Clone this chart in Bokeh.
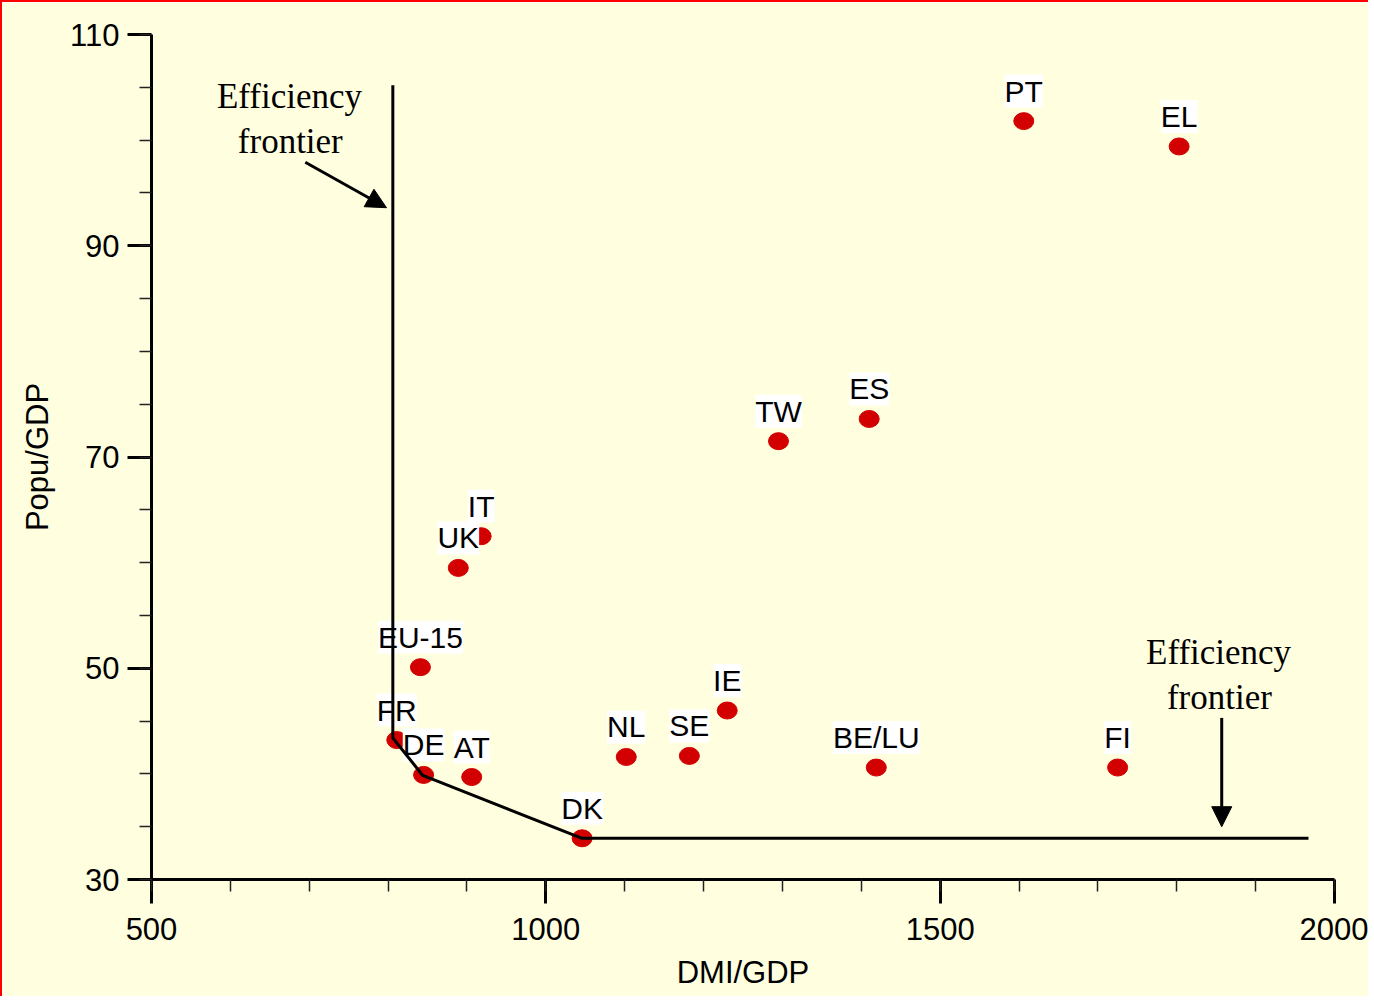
from bokeh.plotting import figure
from bokeh.models import ColumnDataSource, LabelSet, Arrow, NormalHead, FixedTicker, Range1d
from bokeh.core.properties import value
from bokeh.embed import file_html
from bokeh.resources import INLINE

# ---- data ----
countries = ["PT", "EL", "ES", "TW", "IT", "UK", "EU-15", "FR", "DE", "AT",
             "DK", "NL", "SE", "IE", "BE/LU", "FI"]
dmi_gdp = [1606, 1803, 1410, 1295, 918, 889, 841, 811, 845, 906,
           1046, 1102, 1182, 1230, 1419, 1725]
popu_gdp = [101.8, 99.4, 73.6, 71.5, 62.5, 59.5, 50.1, 43.2, 39.9, 39.7,
            33.9, 41.6, 41.7, 46.0, 40.6, 40.6]

frontier_x = [806, 806, 844, 1046, 1967]
frontier_y = [105.2, 43.4, 39.85, 33.9, 33.9]

x_major = [500, 1000, 1500, 2000]
x_minor = list(range(500, 2001, 100))
y_major = [30, 50, 70, 90, 110]
y_minor = list(range(30, 111, 5))

note_text = ["Efficiency", "frontier", "Efficiency", "frontier"]
note_x = [675, 676, 1853, 1854]
note_y = [104.1, 99.9, 51.5, 47.2]

arrow_x_start = [695, 1857]
arrow_y_start = [97.9, 45.3]
arrow_x_end = [798, 1857]
arrow_y_end = [93.6, 35.0]

BG = "#FFFFE0"
SANS = "Liberation Sans"

p = figure(width=1368, height=996, output_backend="svg", toolbar_location=None,
           x_range=Range1d(500, 2000), y_range=Range1d(30, 110),
           min_border_left=149, min_border_right=36, min_border_top=32,
           min_border_bottom=119,
           background_fill_color=BG, border_fill_color=BG)
p.outline_line_color = None
p.grid.visible = False
p.styles = {"border-left": "2px solid #FF0000", "border-top": "2px solid #FF0000"}

p.xaxis.ticker = FixedTicker(ticks=x_major, minor_ticks=x_minor)
p.yaxis.ticker = FixedTicker(ticks=y_major, minor_ticks=y_minor)
p.xaxis.axis_label = "DMI/GDP"
p.yaxis.axis_label = "Popu/GDP"
for ax in (p.xaxis, p.yaxis):
    ax.axis_line_width = 3
    ax.axis_line_color = "black"
    ax.major_tick_line_width = 3
    ax.major_tick_line_color = "black"
    ax.major_tick_out = 24
    ax.major_tick_in = 0
    ax.minor_tick_line_width = 1.5
    ax.minor_tick_line_color = "#222222"
    ax.minor_tick_out = 12
    ax.minor_tick_in = 0
    ax.major_label_text_font = SANS
    ax.major_label_text_font_size = "31px"
    ax.major_label_text_color = "black"
    ax.major_label_standoff = 8
    ax.axis_label_text_font = SANS
    ax.axis_label_text_font_size = "31px"
    ax.axis_label_text_font_style = "normal"
    ax.axis_label_text_color = "black"
    ax.axis_label_standoff = 12
p.xaxis.major_label_standoff = 14

src = ColumnDataSource(dict(x=dmi_gdp, y=popu_gdp, name=countries))

p.ellipse(x="x", y="y", width=20, height=17, width_units="screen",
          height_units="screen", source=src, fill_color="#D20000",
          line_color="#D20000")

labels = LabelSet(x="x", y="y", text="name", source=src, y_offset=30,
                  text_align="center", text_baseline="middle",
                  text_font=value(SANS), text_font_size="30px",
                  text_color="black", background_fill_color="white")
p.add_layout(labels)

fr = p.line(frontier_x, frontier_y, line_width=3, line_color="black")
fr.level = "overlay"

p.text(x=note_x, y=note_y, text=note_text, text_font=value("Liberation Serif"),
       text_font_size="35px", text_align="center", text_baseline="middle",
       text_color="black")

for xs, ys, xe, ye in zip(arrow_x_start, arrow_y_start, arrow_x_end, arrow_y_end):
    p.add_layout(Arrow(end=NormalHead(size=20, fill_color="black", line_color="black"),
                       x_start=xs, y_start=ys, x_end=xe, y_end=ye,
                       line_width=3, line_color="black"))

open("out.html", "w").write(file_html(p, INLINE))
